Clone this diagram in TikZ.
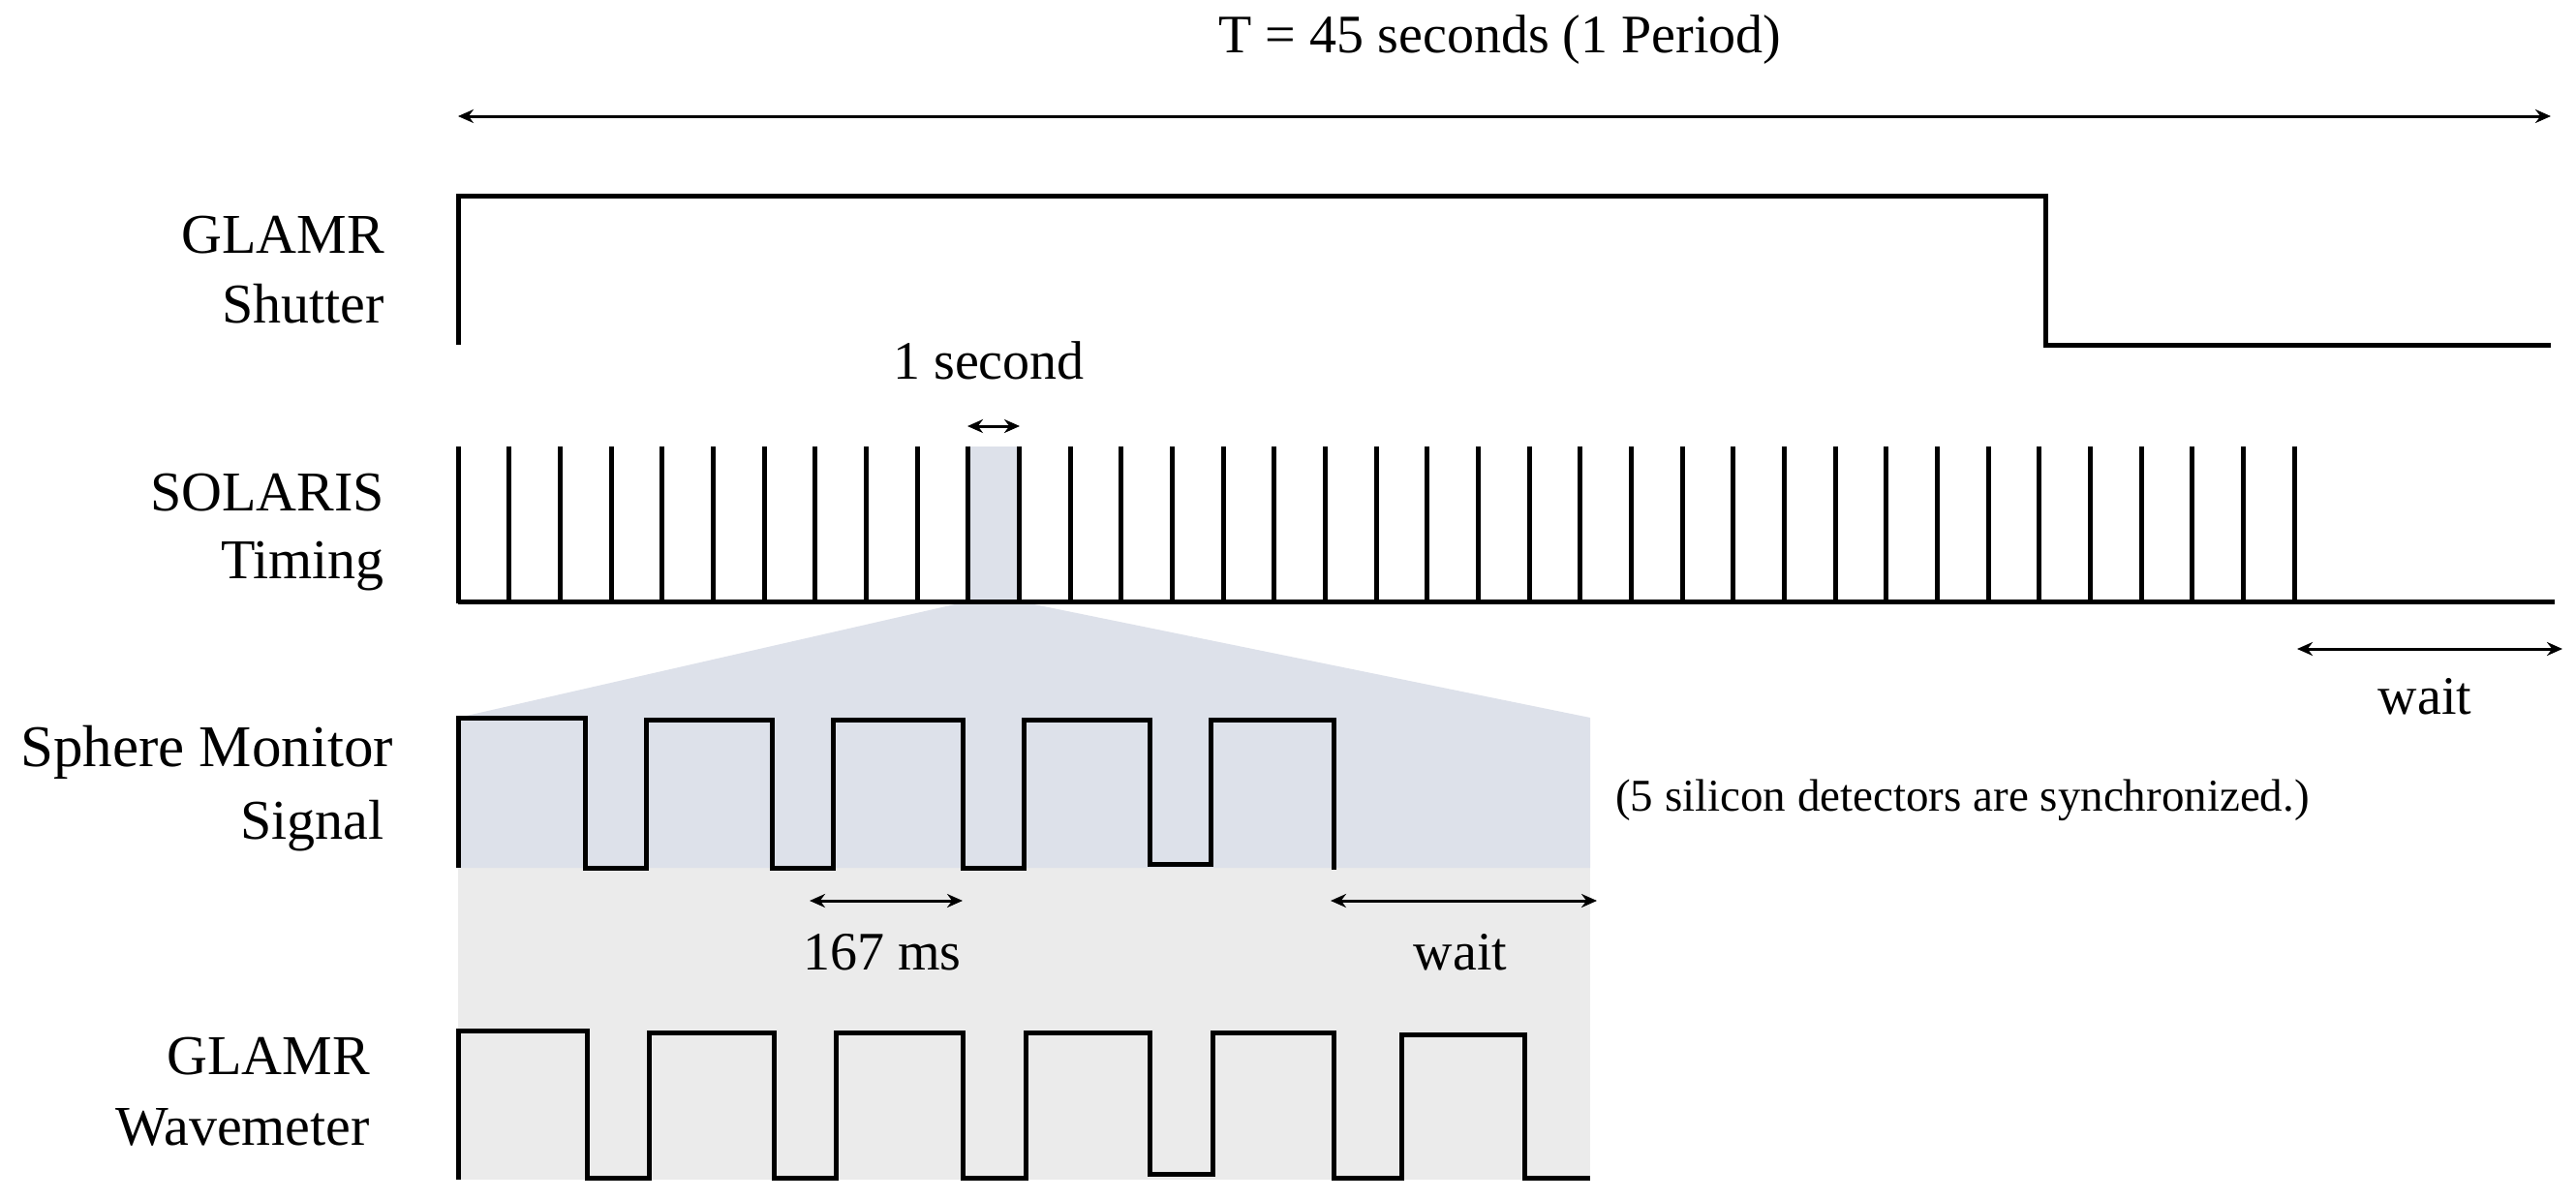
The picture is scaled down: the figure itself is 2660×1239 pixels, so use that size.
\documentclass[tikz,border=0pt]{standalone}
\usepackage{fontspec}
\setmainfont{Liberation Serif}
\usetikzlibrary{arrows.meta}
\definecolor{bluefill}{HTML}{DDE1EA}
\definecolor{grayfill}{HTML}{EBEBEB}
\begin{document}
\begin{tikzpicture}[x=1pt,y=-1pt,
  sig/.style={line width=5pt,line join=miter},
  dim/.style={line width=3pt,{Stealth[length=16pt,width=14pt]}-{Stealth[length=16pt,width=14pt]}},
  lab/.style={font=\fontsize{58}{70}\selectfont,anchor=east,inner sep=0pt},
  txt/.style={font=\fontsize{56}{66}\selectfont,inner sep=0pt}]
\useasboundingbox (0,0) rectangle (2660,1239);
% fills
\fill[grayfill] (473,896) rectangle (1642,1218);
\fill[bluefill] (999,621) -- (1053,621) -- (1642,741) -- (1642,896) -- (473,896) -- (473,741) -- cycle;
\fill[bluefill] (999,461) rectangle (1053,621);
% period arrow
\coordinate (pl) at (473,120); \coordinate (pr) at (2634,120);
\draw[dim] (pl) -- (pr);
\node[txt] (T) at (1549,41) {T = 45 seconds (1 Period)};
% labels
\node[lab] (g1) at (397,243) {GLAMR};
\node[lab] (g2) at (397,314) {Shutter};
\node[lab] (s1) at (397,509) {SOLARIS};
\node[lab] (s2) at (397,585) {Timing};
\node[lab,font=\fontsize{61}{70}\selectfont] (m1) at (406,777) {Sphere Monitor};
\node[lab] (m2) at (397,853) {Signal};
\node[lab] (w1) at (382,1091) {GLAMR};
\node[lab] (w2) at (382,1164) {Wavemeter};
% shutter
\draw[sig] (473,356) -- (473,202) -- (2112,202) -- (2112,356) -- (2634,356);
% solaris
\draw[sig] (473,621) -- (2638,621);
\foreach \i in {0,...,36}{
  \draw[line width=5pt] ({473+52.67*\i},461) -- ({473+52.67*\i},623);
}
\coordinate (oa) at (999,440); \coordinate (ob) at (1053,440);
\draw[dim] (oa) -- (ob);
\node[txt] (os) at (1021,372) {1 second};
\coordinate (wa) at (2372,670); \coordinate (wb) at (2646,670);
\draw[dim] (wa) -- (wb);
\node[txt] (wt) at (2504,719) {wait};
% sphere monitor
\draw[sig] (473,896) -- (473,741) -- (604,741) -- (604,896) -- (667,896) -- (667,743) -- (797,743) -- (797,896) -- (860,896) -- (860,743) -- (994,743) -- (994,896) -- (1057,896) -- (1057,743) -- (1187,743) -- (1187,892) -- (1250,892) -- (1250,743) -- (1377,743) -- (1377,898);
\coordinate (ma) at (836,930); \coordinate (mb) at (994,930);
\draw[dim] (ma) -- (mb);
\node[txt] (ms) at (911,983) {167 ms};
\coordinate (mwa) at (1374,930); \coordinate (mwb) at (1649,930);
\draw[dim] (mwa) -- (mwb);
\node[txt] (mw) at (1508,983) {wait};
\node[txt,anchor=west,font=\fontsize{47}{56}\selectfont] (sync) at (1668,826) {(5 silicon detectors are synchronized.)};
% wavemeter
\draw[sig] (473,1218) -- (473,1064) -- (606,1064) -- (606,1216) -- (670,1216) -- (670,1066) -- (799,1066) -- (799,1216) -- (863,1216) -- (863,1066) -- (994,1066) -- (994,1216) -- (1059,1216) -- (1059,1066) -- (1187,1066) -- (1187,1212) -- (1252,1212) -- (1252,1066) -- (1377,1066) -- (1377,1216) -- (1447,1216) -- (1447,1068) -- (1574,1068) -- (1574,1216) -- (1642,1216);
\end{tikzpicture}
\end{document}
